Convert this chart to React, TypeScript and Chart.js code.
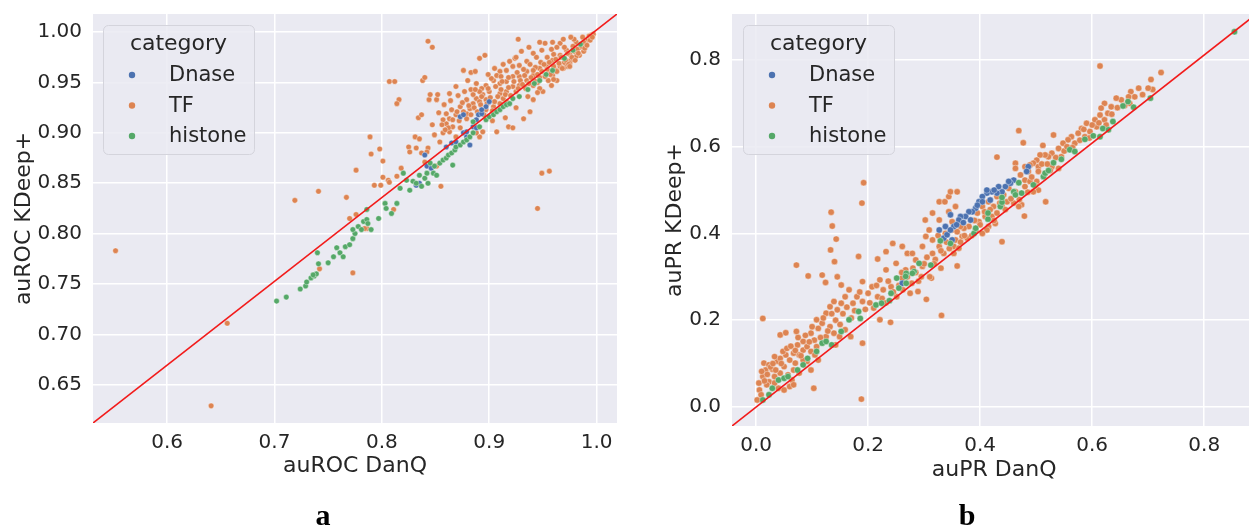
import React, { useEffect, useRef } from 'react';
import { Chart, registerables } from 'chart.js';

Chart.register(...registerables);
Chart.defaults.font.family = "'DejaVu Sans', sans-serif";
Chart.defaults.color = '#262626';

// ---------- labels / categories ----------
const categories = ['Dnase', 'TF', 'histone'];
const categoryColors = ['#4c72b0', '#dd8452', '#55a868'];
const legendTitle = 'category';

// ---------- axes ----------
const rocXTicks = [0.6, 0.7, 0.8, 0.9, 1.0];
const rocYTicks = [0.65, 0.7, 0.75, 0.8, 0.85, 0.9, 0.95, 1.0];
const rocXRange = [0.531, 1.019];
const rocYRange = [0.612, 1.018];
const prXTicks = [0.0, 0.2, 0.4, 0.6, 0.8];
const prYTicks = [0.0, 0.2, 0.4, 0.6, 0.8];
const prXRange = [-0.043, 0.893];
const prYRange = [-0.044, 0.906];

// ---------- panel a: auROC ----------
const rocHistone: number[][] = [
  [0.702,0.733],[0.711,0.737],[0.724,0.745],[0.729,0.748],[0.730,0.752],[0.734,0.756],[0.737,0.758],[0.739,0.760],
  [0.736,0.759],[0.740,0.781],[0.741,0.770],[0.750,0.771],[0.755,0.777],[0.758,0.786],[0.761,0.781],[0.764,0.777],
  [0.766,0.787],[0.770,0.789],[0.773,0.795],[0.775,0.800],[0.773,0.804],[0.778,0.807],[0.781,0.804],[0.783,0.812],
  [0.786,0.814],[0.787,0.810],[0.790,0.804],[0.786,0.824],[0.797,0.815],[0.803,0.830],[0.804,0.825],[0.809,0.820],
  [0.814,0.830],[0.817,0.845],[0.820,0.860],[0.823,0.853],[0.826,0.843],[0.829,0.852],[0.832,0.850],[0.835,0.858],
  [0.837,0.847],[0.840,0.855],[0.842,0.860],[0.843,0.850],[0.845,0.870],[0.848,0.860],[0.851,0.858],[0.849,0.867],
  [0.854,0.870],[0.857,0.873],[0.860,0.875],[0.862,0.878],[0.865,0.880],[0.866,0.868],[0.868,0.883],[0.869,0.886],
  [0.873,0.888],[0.876,0.891],[0.879,0.893],[0.882,0.896],[0.885,0.900],[0.885,0.911],[0.891,0.906],[0.897,0.913],
  [0.900,0.916],[0.904,0.918],[0.907,0.921],[0.910,0.923],[0.913,0.926],[0.916,0.928],[0.919,0.929],[0.922,0.934],
  [0.928,0.936],[0.936,0.943],[0.942,0.949],[0.947,0.952],[0.953,0.958],[0.959,0.962],[0.970,0.974],[0.978,0.982],
  [0.985,0.988]
];
const rocDnase: number[][] = [
  [0.873,0.916],[0.876,0.918],[0.890,0.918],[0.893,0.919],[0.888,0.913],[0.876,0.900],[0.879,0.896],[0.882,0.888],
  [0.865,0.890],[0.860,0.886],[0.840,0.878],[0.842,0.867],[0.846,0.865],[0.832,0.848],[0.835,0.850],[0.869,0.891],
  [0.885,0.906],[0.888,0.905],[0.879,0.901],[0.897,0.926],[0.900,0.931],[0.893,0.923]
];
const rocTF: number[][] = [
  [0.552,0.783],[0.641,0.629],[0.656,0.711],[0.719,0.833],[0.741,0.842],[0.742,0.765],[0.773,0.761],[0.843,0.991],
  [0.847,0.985],[0.927,0.993],[0.807,0.951],[0.812,0.951],[0.838,0.952],[0.840,0.955],[0.816,0.933],[0.814,0.929],
  [0.844,0.933],[0.851,0.933],[0.852,0.938],[0.845,0.938],[0.863,0.939],[0.869,0.946],[0.876,0.962],[0.883,0.960],
  [0.887,0.961],[0.891,0.974],[0.896,0.977],[0.880,0.952],[0.834,0.915],[0.837,0.918],[0.789,0.896],[0.790,0.879],
  [0.798,0.884],[0.801,0.872],[0.776,0.863],[0.767,0.836],[0.793,0.848],[0.799,0.848],[0.801,0.856],[0.806,0.853],
  [0.807,0.851],[0.825,0.886],[0.831,0.896],[0.835,0.894],[0.847,0.908],[0.849,0.898],[0.854,0.891],[0.843,0.885],
  [0.842,0.881],[0.837,0.880],[0.851,0.867],[0.855,0.847],[0.811,0.824],[0.776,0.819],[0.786,0.805],[0.949,0.860],
  [0.956,0.862],[0.945,0.825],[0.907,0.901],[0.918,0.906],[0.922,0.905],[0.938,0.921],[0.932,0.914],[0.936,0.936],
  [0.941,0.933],[0.972,0.966],[0.958,0.947],[0.950,0.941],[0.963,0.952],[0.976,0.972],[0.984,0.977],[0.990,0.989],
  [0.995,0.997],[0.997,0.998],[0.987,0.995],[0.981,0.990],[0.978,0.986],[0.972,0.982],[0.966,0.989],[0.959,0.990],
  [0.952,0.989],[0.947,0.990],[0.949,0.982],[0.941,0.979],[0.930,0.981],[0.935,0.971],[0.928,0.967],[0.922,0.966],
  [0.916,0.962],[0.910,0.961],[0.922,0.956],[0.916,0.951],[0.910,0.949],[0.904,0.952],[0.897,0.947],[0.900,0.941],
  [0.894,0.938],[0.888,0.934],[0.885,0.929],[0.882,0.924],[0.891,0.931],[0.897,0.933],[0.910,0.939],[0.916,0.941],
  [0.922,0.946],[0.928,0.947],[0.935,0.952],[0.941,0.957],[0.947,0.964],[0.953,0.967],[0.959,0.972],[0.966,0.977],
  [0.941,0.947],[0.947,0.944],[0.955,0.952],[0.959,0.957],[0.969,0.964],[0.975,0.969],[0.981,0.976],[0.966,0.966],
  [0.935,0.961],[0.928,0.956],[0.916,0.931],[0.910,0.929],[0.904,0.926],[0.897,0.923],[0.879,0.919],[0.869,0.918],
  [0.863,0.914],[0.860,0.909],[0.857,0.913],[0.866,0.906],[0.873,0.905],[0.863,0.901],[0.857,0.900],[0.869,0.896],
  [0.891,0.896],[0.888,0.900],[0.894,0.901],[0.883,0.943],[0.888,0.949],[0.893,0.944],[0.902,0.954],[0.907,0.957],
  [0.911,0.956],[0.919,0.971],[0.924,0.974],[0.885,0.938],[0.879,0.933],[0.873,0.926],[0.865,0.923],[0.860,0.919],
  [0.891,0.941],[0.840,0.871],[0.826,0.881],[0.832,0.885],[0.818,0.865],[0.814,0.857],[0.770,0.815],[0.784,0.805],
  [0.985,0.985],[0.992,0.993],[0.988,0.981],[0.975,0.978],[0.970,0.970],[0.962,0.962],[0.955,0.960],[0.945,0.950],
  [0.993,0.996],[0.979,0.993],[0.970,0.985],[0.960,0.978],[0.954,0.975],[0.948,0.970],[0.943,0.965],
  [0.872,0.912],[0.876,0.921],[0.879,0.914],[0.883,0.918],[0.886,0.925],[0.889,0.921],[0.892,0.928],[0.895,0.918],
  [0.898,0.929],[0.901,0.935],[0.903,0.922],[0.905,0.931],[0.908,0.936],[0.911,0.943],[0.913,0.934],[0.915,0.938],
  [0.918,0.945],[0.920,0.937],[0.923,0.951],[0.925,0.941],[0.927,0.944],[0.929,0.952],[0.931,0.948],[0.933,0.957],
  [0.934,0.944],[0.937,0.949],[0.939,0.955],[0.941,0.962],[0.943,0.951],[0.945,0.958],[0.947,0.955],[0.949,0.961],
  [0.951,0.968],[0.952,0.956],[0.954,0.963],[0.956,0.970],[0.957,0.958],[0.960,0.966],[0.962,0.973],[0.963,0.961],
  [0.965,0.969],[0.967,0.975],[0.968,0.964],[0.971,0.972],[0.973,0.979],[0.974,0.968],[0.977,0.975],[0.979,0.981],
  [0.980,0.972],[0.982,0.983],[0.983,0.979],[0.986,0.986],[0.988,0.990],[0.989,0.984],[0.991,0.987],[0.994,0.992],
  [0.996,0.995],[0.958,0.983],[0.963,0.985],[0.944,0.975],[0.938,0.968],[0.932,0.963],[0.926,0.960],[0.918,0.955],
  [0.912,0.951],[0.906,0.946],[0.899,0.944],[0.893,0.936],[0.887,0.943],[0.881,0.927],[0.875,0.930],[0.870,0.921],
  [0.866,0.913],[0.862,0.905],[0.859,0.903],[0.856,0.908],[0.853,0.920],[0.858,0.928],[0.864,0.932],[0.871,0.937],
  [0.877,0.941],[0.899,0.958],[0.905,0.964],[0.913,0.968],[0.925,0.975],[0.937,0.985],[0.969,0.993],[0.976,0.995],
  [0.915,0.915],[0.925,0.925],[0.945,0.940],[0.960,0.953],[0.975,0.966],[0.903,0.912]
];

// ---------- panel b: auPR ----------
const prHistone: number[][] = [
  [0.012,0.016],[0.023,0.028],[0.029,0.043],[0.040,0.062],[0.050,0.066],[0.057,0.070],[0.074,0.085],[0.084,0.097],
  [0.092,0.112],[0.108,0.128],[0.118,0.147],[0.125,0.151],[0.135,0.143],[0.152,0.174],[0.166,0.201],[0.183,0.220],
  [0.186,0.204],[0.214,0.235],[0.224,0.239],[0.238,0.245],[0.241,0.262],[0.251,0.297],[0.255,0.274],[0.268,0.285],
  [0.268,0.308],[0.282,0.312],[0.267,0.301],[0.279,0.308],[0.291,0.331],[0.312,0.327],[0.329,0.383],[0.347,0.377],
  [0.389,0.400],[0.392,0.412],[0.414,0.433],[0.414,0.447],[0.436,0.462],[0.439,0.472],[0.439,0.483],[0.460,0.496],
  [0.463,0.489],[0.474,0.493],[0.469,0.517],[0.495,0.512],[0.513,0.531],[0.516,0.539],[0.522,0.545],[0.531,0.563],
  [0.545,0.571],[0.560,0.593],[0.569,0.589],[0.587,0.617],[0.602,0.625],[0.614,0.623],[0.619,0.642],[0.629,0.639],
  [0.637,0.658],[0.655,0.694],[0.664,0.704],[0.674,0.691],[0.704,0.712],[0.854,0.865]
];
const prDnase: number[][] = [
  [0.261,0.285],[0.327,0.408],[0.335,0.389],[0.341,0.397],[0.350,0.385],[0.347,0.443],[0.338,0.416],[0.486,0.554],
  [0.483,0.543],[0.460,0.523],[0.454,0.516],[0.445,0.508],[0.439,0.496],[0.430,0.493],[0.421,0.496],[0.412,0.493],
  [0.412,0.500],[0.404,0.485],[0.398,0.473],[0.404,0.473],[0.392,0.458],[0.386,0.450],[0.380,0.450],[0.374,0.439],
  [0.365,0.439],[0.362,0.431],[0.353,0.416],[0.347,0.408],[0.383,0.431],[0.418,0.477],[0.451,0.520],[0.433,0.508],
  [0.370,0.425],[0.358,0.420],[0.395,0.465],[0.425,0.500]
];
const prTF: number[][] = [
  [0.012,0.204],[0.093,0.302],[0.118,0.304],[0.145,0.300],[0.152,0.281],[0.124,0.287],[0.190,0.289],[0.221,0.293],
  [0.261,0.297],[0.313,0.297],[0.304,0.248],[0.331,0.211],[0.289,0.266],[0.275,0.262],[0.221,0.201],[0.240,0.195],
  [0.190,0.147],[0.188,0.018],[0.103,0.043],[0.043,0.166],[0.053,0.171],[0.072,0.174],[0.014,0.101],[0.023,0.097],
  [0.017,0.085],[0.029,0.087],[0.038,0.105],[0.012,0.070],[0.023,0.058],[0.033,0.055],[0.040,0.043],[0.050,0.039],
  [0.060,0.047],[0.064,0.062],[0.057,0.074],[0.067,0.085],[0.070,0.101],[0.077,0.120],[0.084,0.131],[0.091,0.139],
  [0.098,0.128],[0.108,0.139],[0.104,0.154],[0.098,0.170],[0.111,0.181],[0.118,0.193],[0.108,0.201],[0.125,0.216],
  [0.132,0.231],[0.139,0.243],[0.145,0.224],[0.152,0.239],[0.159,0.254],[0.166,0.270],[0.173,0.239],[0.180,0.254],
  [0.190,0.243],[0.200,0.262],[0.207,0.277],[0.217,0.254],[0.227,0.270],[0.241,0.277],[0.251,0.254],[0.132,0.185],
  [0.139,0.170],[0.149,0.162],[0.159,0.178],[0.169,0.162],[0.125,0.162],[0.142,0.143],[0.111,0.108],[0.091,0.105],
  [0.098,0.085],[0.077,0.078],[0.067,0.051],[0.006,0.039],[0.019,0.051],[0.033,0.070],[0.043,0.078],[0.050,0.093],
  [0.060,0.108],[0.067,0.124],[0.053,0.120],[0.043,0.112],[0.033,0.116],[0.084,0.151],[0.074,0.143],[0.084,0.108],
  [0.002,0.016],[0.009,0.028],
  [0.192,0.517],[0.189,0.470],[0.134,0.449],[0.136,0.417],[0.143,0.387],[0.133,0.362],[0.140,0.335],[0.072,0.327],
  [0.183,0.347],[0.217,0.341],[0.232,0.358],[0.244,0.377],[0.261,0.370],[0.270,0.354],[0.285,0.339],[0.302,0.431],
  [0.309,0.408],[0.315,0.385],[0.327,0.473],[0.337,0.473],[0.344,0.485],[0.347,0.496],[0.315,0.447],[0.327,0.431],
  [0.303,0.393],[0.315,0.354],[0.297,0.370],[0.279,0.354],[0.327,0.370],[0.338,0.400],[0.350,0.408],[0.297,0.324],
  [0.250,0.331],[0.232,0.316],[0.267,0.316],[0.335,0.354],[0.353,0.370],
  [0.614,0.786],[0.723,0.771],[0.705,0.755],[0.708,0.732],[0.683,0.735],[0.669,0.727],[0.676,0.715],[0.652,0.708],
  [0.643,0.712],[0.667,0.700],[0.634,0.692],[0.622,0.700],[0.616,0.689],[0.628,0.677],[0.614,0.673],[0.605,0.662],
  [0.622,0.662],[0.608,0.646],[0.590,0.654],[0.581,0.642],[0.596,0.635],[0.587,0.623],[0.575,0.631],[0.563,0.623],
  [0.557,0.616],[0.569,0.608],[0.548,0.608],[0.540,0.596],[0.531,0.627],[0.512,0.603],[0.545,0.577],[0.528,0.585],
  [0.522,0.577],[0.516,0.581],[0.507,0.581],[0.501,0.569],[0.495,0.562],[0.489,0.558],[0.504,0.554],[0.540,0.550],
  [0.528,0.554],[0.516,0.539],[0.504,0.543],[0.480,0.554],[0.469,0.637],[0.477,0.609],[0.430,0.576],[0.463,0.562],
  [0.463,0.550],[0.472,0.535],[0.486,0.543],[0.480,0.523],[0.489,0.520],[0.501,0.520],[0.504,0.500],[0.495,0.496],
  [0.480,0.508],[0.463,0.496],[0.451,0.504],[0.442,0.489],[0.430,0.485],[0.415,0.473],[0.424,0.462],[0.439,0.462],
  [0.448,0.473],[0.460,0.470],[0.474,0.466],[0.479,0.440],[0.469,0.462],[0.517,0.473],[0.439,0.381],[0.404,0.462],
  [0.395,0.447],[0.409,0.439],[0.421,0.439],[0.430,0.447],[0.398,0.427],[0.415,0.416],[0.427,0.423],[0.412,0.408],
  [0.404,0.400],[0.392,0.408],[0.380,0.416],[0.371,0.412],[0.365,0.416],[0.359,0.404],[0.356,0.385],[0.368,0.393],
  [0.377,0.389],[0.362,0.366],[0.353,0.354],[0.359,0.325],[0.359,0.496],[0.344,0.450],[0.356,0.462],[0.350,0.427],
  [0.260,0.310],[0.280,0.320],[0.300,0.330],[0.320,0.340],[0.330,0.360],[0.290,0.290],[0.310,0.300],[0.330,0.320],
  [0.005,0.055],[0.010,0.082],[0.015,0.060],[0.020,0.075],[0.026,0.092],[0.030,0.100],[0.035,0.085],[0.045,0.100],
  [0.048,0.128],[0.055,0.135],[0.062,0.140],[0.070,0.130],[0.075,0.160],[0.080,0.118],[0.088,0.165],[0.095,0.150],
  [0.100,0.185],[0.105,0.120],[0.115,0.160],[0.120,0.205],[0.128,0.175],[0.135,0.215],[0.142,0.200],[0.150,0.190],
  [0.155,0.215],[0.162,0.230],[0.170,0.205],[0.176,0.222],[0.185,0.265],[0.195,0.225],[0.203,0.240],[0.210,0.228],
  [0.215,0.280],[0.225,0.250],[0.232,0.240],[0.236,0.290],[0.245,0.265],[0.255,0.280],[0.262,0.270],[0.270,0.300],
  [0.278,0.285],[0.285,0.310],[0.295,0.300],[0.305,0.345],[0.318,0.330],[0.325,0.395],[0.340,0.380],[0.345,0.365],
  [0.365,0.380],[0.372,0.395],[0.385,0.395],[0.390,0.430],[0.400,0.420],[0.408,0.450],[0.418,0.455],[0.425,0.430],
  [0.435,0.470],[0.445,0.455],[0.455,0.480],[0.470,0.478],[0.485,0.495],[0.492,0.530],[0.498,0.510],[0.510,0.560],
  [0.520,0.560],[0.525,0.545],[0.535,0.575],[0.550,0.590],[0.555,0.600],[0.565,0.598],[0.578,0.615],[0.585,0.640],
  [0.595,0.620],[0.600,0.650],[0.612,0.655],[0.625,0.650],[0.635,0.675],[0.645,0.690],[0.658,0.695],[0.665,0.715],
  [0.690,0.720],[0.700,0.735]
];

const TEXT = '#262626';

const bgPlugin = {
  id: 'plotBg',
  beforeDraw(chart: any) {
    const { ctx, chartArea } = chart;
    ctx.save();
    ctx.fillStyle = '#eaeaf2';
    ctx.fillRect(chartArea.left, chartArea.top, chartArea.right - chartArea.left, chartArea.bottom - chartArea.top);
    ctx.restore();
  },
};

const legendPlugin = {
  id: 'catLegend',
  afterDraw(chart: any, _args: any, opts: any) {
    const { ctx, chartArea } = chart;
    const x0 = chartArea.left + opts.dx;
    const y0 = chartArea.top + opts.dy;
    const w = 151;
    const h = 129;
    ctx.save();
    ctx.beginPath();
    ctx.roundRect(x0 + 0.5, y0 + 0.5, w, h, 5);
    ctx.fillStyle = 'rgba(234,234,242,0.85)';
    ctx.fill();
    ctx.strokeStyle = '#d4d4dc';
    ctx.lineWidth = 1;
    ctx.stroke();
    ctx.fillStyle = TEXT;
    ctx.textBaseline = 'middle';
    ctx.textAlign = 'center';
    ctx.font = "22px 'DejaVu Sans'";
    ctx.fillText(legendTitle, x0 + w / 2, y0 + 19);
    ctx.textAlign = 'left';
    ctx.font = "21px 'DejaVu Sans'";
    categories.forEach((c, i) => {
      const cy = y0 + 50 + i * 30.5;
      ctx.beginPath();
      ctx.arc(x0 + 29, cy, 3.2, 0, Math.PI * 2);
      ctx.fillStyle = categoryColors[i];
      ctx.fill();
      ctx.fillStyle = TEXT;
      ctx.fillText(c, x0 + 66, cy + 1);
    });
    ctx.restore();
  },
};

type PanelProps = {
  left: number;
  width: number;
  xRange: number[];
  yRange: number[];
  xTicks: number[];
  yTicks: number[];
  xDigits: number;
  yDigits: number;
  xTitle: string;
  yTitle: string;
  series: number[][][]; // in category order
  pointRadius: number;
  padRight: number;
  yAxisWidth: number;
  xAxisHeight: number;
  padBottom: number;
  yTitlePad: number;
  legendDx: number;
};

function Panel(p: PanelProps) {
  const ref = useRef<HTMLCanvasElement | null>(null);
  useEffect(() => {
    if (!ref.current) return;
    const toPts = (arr: number[][]) => arr.map(([x, y]) => ({ x, y }));
    const mk = (idx: number) => ({
      label: categories[idx],
      data: toPts(p.series[idx]),
      backgroundColor: categoryColors[idx],
      borderColor: 'rgba(255,255,255,0.75)',
      borderWidth: 0.5,
      pointRadius: p.pointRadius,
      pointHoverRadius: p.pointRadius,
    });
    const chart = new Chart(ref.current, {
      type: 'scatter',
      data: {
        datasets: [
          {
            label: 'diagonal',
            data: [
              { x: p.xRange[0], y: p.yRange[0] },
              { x: p.xRange[1], y: p.yRange[1] },
            ],
            showLine: true,
            borderColor: '#f21b1b',
            borderWidth: 1.6,
            pointRadius: 0,
            fill: false,
          } as any,
          mk(2),
          mk(0),
          mk(1),
        ],
      },
      options: {
        responsive: false,
        animation: false,
        events: [],
        layout: { padding: { top: 14, right: p.padRight, bottom: p.padBottom, left: 0 } },
        plugins: {
          legend: { display: false },
          tooltip: { enabled: false },
          catLegend: { dx: p.legendDx, dy: 11 },
        } as any,
        scales: {
          x: {
            type: 'linear',
            min: p.xRange[0],
            max: p.xRange[1],
            afterFit: (s: any) => {
              s.height = p.xAxisHeight;
              s.paddingLeft = 0;
              s.paddingRight = 0;
            },
            afterBuildTicks: (s: any) => { s.ticks = p.xTicks.map((v) => ({ value: v })); },
            ticks: {
              callback: (v: any) => Number(v).toFixed(p.xDigits),
              font: { size: 20 },
              color: TEXT,
              padding: 8,
              autoSkip: false,
              maxRotation: 0,
            },
            grid: { color: '#ffffff', lineWidth: 1.5, drawTicks: false },
            border: { display: false },
            title: { display: true, text: p.xTitle, font: { size: 22 }, color: TEXT, padding: 0 },
          },
          y: {
            type: 'linear',
            min: p.yRange[0],
            max: p.yRange[1],
            afterFit: (s: any) => {
              s.width = p.yAxisWidth;
              s.paddingTop = 0;
              s.paddingBottom = 0;
            },
            afterBuildTicks: (s: any) => { s.ticks = p.yTicks.map((v) => ({ value: v })); },
            ticks: {
              callback: (v: any) => Number(v).toFixed(p.yDigits),
              font: { size: 20 },
              color: TEXT,
              padding: 11,
              autoSkip: false,
            },
            grid: { color: '#ffffff', lineWidth: 1.5, drawTicks: false },
            border: { display: false },
            title: { display: true, text: p.yTitle, font: { size: 22 }, color: TEXT, padding: { top: p.yTitlePad, bottom: 0 } },
          },
        },
      },
      plugins: [bgPlugin, legendPlugin],
    } as any);
    return () => chart.destroy();
  }, []);
  return (
    <canvas
      ref={ref}
      width={p.width}
      height={528}
      style={{ position: 'absolute', left: p.left, top: 0, width: p.width, height: 528 }}
    />
  );
}

const captionStyle: React.CSSProperties = {
  position: 'absolute',
  top: 515,
  transform: 'translate(-50%, -50%)',
  fontFamily: "'Liberation Serif', serif",
  fontWeight: 'bold',
  fontSize: 30,
  color: '#000',
  lineHeight: 1,
};

export default function App() {
  return (
    <div
      style={{
        position: 'fixed',
        left: 0,
        top: 0,
        width: 1249,
        height: 528,
        overflow: 'hidden',
        background: '#ffffff',
      }}
    >
      <Panel
        left={0}
        width={640}
        xRange={rocXRange}
        yRange={rocYRange}
        xTicks={rocXTicks}
        yTicks={rocYTicks}
        xDigits={1}
        yDigits={2}
        xTitle="auROC DanQ"
        yTitle="auROC KDeep+"
        series={[rocDnase, rocTF, rocHistone]}
        pointRadius={2.8}
        padRight={23}
        yAxisWidth={93}
        xAxisHeight={56}
        padBottom={49}
        yTitlePad={11}
        legendDx={10}
      />
      <Panel
        left={640}
        width={620}
        xRange={prXRange}
        yRange={prYRange}
        xTicks={prXTicks}
        yTicks={prYTicks}
        xDigits={1}
        yDigits={1}
        xTitle="auPR DanQ"
        yTitle="auPR KDeep+"
        series={[prDnase, prTF, prHistone]}
        pointRadius={3.2}
        padRight={1}
        yAxisWidth={92}
        xAxisHeight={57}
        padBottom={45}
        yTitlePad={22}
        legendDx={11}
      />
      <div style={{ ...captionStyle, left: 323 }}>a</div>
      <div style={{ ...captionStyle, left: 967 }}>b</div>
    </div>
  );
}
